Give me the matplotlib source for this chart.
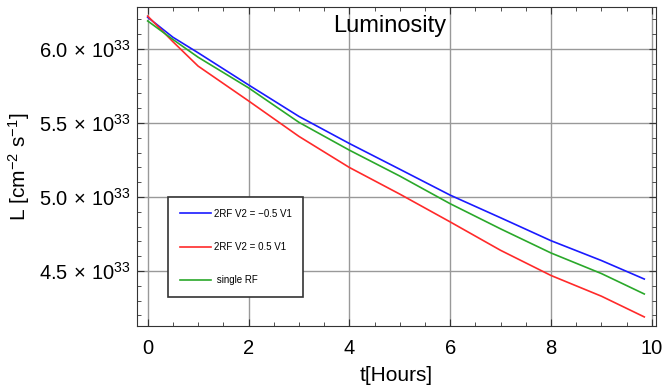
import numpy as np
import matplotlib
matplotlib.use("Agg")
import matplotlib.pyplot as plt
from matplotlib.ticker import MultipleLocator, FixedLocator, FixedFormatter

plt.rcParams['font.family'] = ['Liberation Sans', 'DejaVu Sans']
plt.rcParams['mathtext.fontset'] = 'custom'
plt.rcParams['mathtext.rm'] = 'Liberation Sans'
plt.rcParams['mathtext.it'] = 'Liberation Sans:italic'

# time in hours, luminosity in units of 1e33 cm^-2 s^-1
t = [0, 0.5, 1, 2, 3, 4, 5, 6, 7, 8, 9, 9.85]
lum_neg = [6.215, 6.08, 5.975, 5.758, 5.545, 5.362, 5.188, 5.013, 4.86, 4.705, 4.571, 4.446]
lum_pos = [6.223, 6.05, 5.885, 5.65, 5.41, 5.20, 5.02, 4.832, 4.64, 4.47, 4.33, 4.19]
lum_single = [6.19, 6.065, 5.945, 5.738, 5.505, 5.317, 5.142, 4.955, 4.785, 4.622, 4.483, 4.345]

labels = ['2RF V2 = \u22120.5 V1', '2RF V2 = 0.5 V1', ' single RF']
colors = ['#1a1aff', '#ff2a2a', '#2aa82a']

yticks = [4.5, 5.0, 5.5, 6.0]
yticklabels = [r'$\mathregular{%.1f\,\times\,10^{33}}$' % v for v in yticks]

fig = plt.figure(figsize=(6.72, 3.91), dpi=100)
ax = fig.add_axes([0.204, 0.166, 0.772, 0.816])

for y, lab, c in zip([lum_neg, lum_pos, lum_single], labels, colors):
    ax.plot(t, y, color=c, lw=1.2, label=lab)

ax.set_xlim(-0.21, 10.08)
ax.set_ylim(4.128, 6.284)
ax.xaxis.set_major_locator(MultipleLocator(2))
ax.xaxis.set_minor_locator(MultipleLocator(0.5))
ax.yaxis.set_major_locator(FixedLocator(yticks))
ax.yaxis.set_major_formatter(FixedFormatter(yticklabels))
ax.yaxis.set_minor_locator(MultipleLocator(0.1))
ax.tick_params(which='both', direction='in', top=True, right=True, color='#333333')
ax.tick_params(which='major', length=5, labelsize=14.5)
ax.tick_params(axis='x', which='major', pad=9)
ax.tick_params(axis='y', which='major', pad=5)
ax.tick_params(which='minor', length=3)
ax.grid(True, which='major', color='#999999', lw=1)
for s in ax.spines.values():
    s.set_color('#333333')

ax.set_xlabel('t[Hours]', fontsize=15, labelpad=6)
ax.set_ylabel(r'L [cm$^{-2}$ s$^{-1}$]', fontsize=15, labelpad=5)
ax.text(0.487, 0.975, 'Luminosity', transform=ax.transAxes, ha='center', va='top', fontsize=17)

leg = ax.legend(loc='lower left', bbox_to_anchor=(0.06, 0.091), borderaxespad=0,
                fontsize=7, frameon=True, fancybox=False, edgecolor='#333333',
                framealpha=1, labelspacing=2.4, handlelength=3.2, borderpad=1.2,
                handletextpad=0.3)
leg.get_frame().set_linewidth(1.2)

fig.savefig('out.png', dpi=100)
